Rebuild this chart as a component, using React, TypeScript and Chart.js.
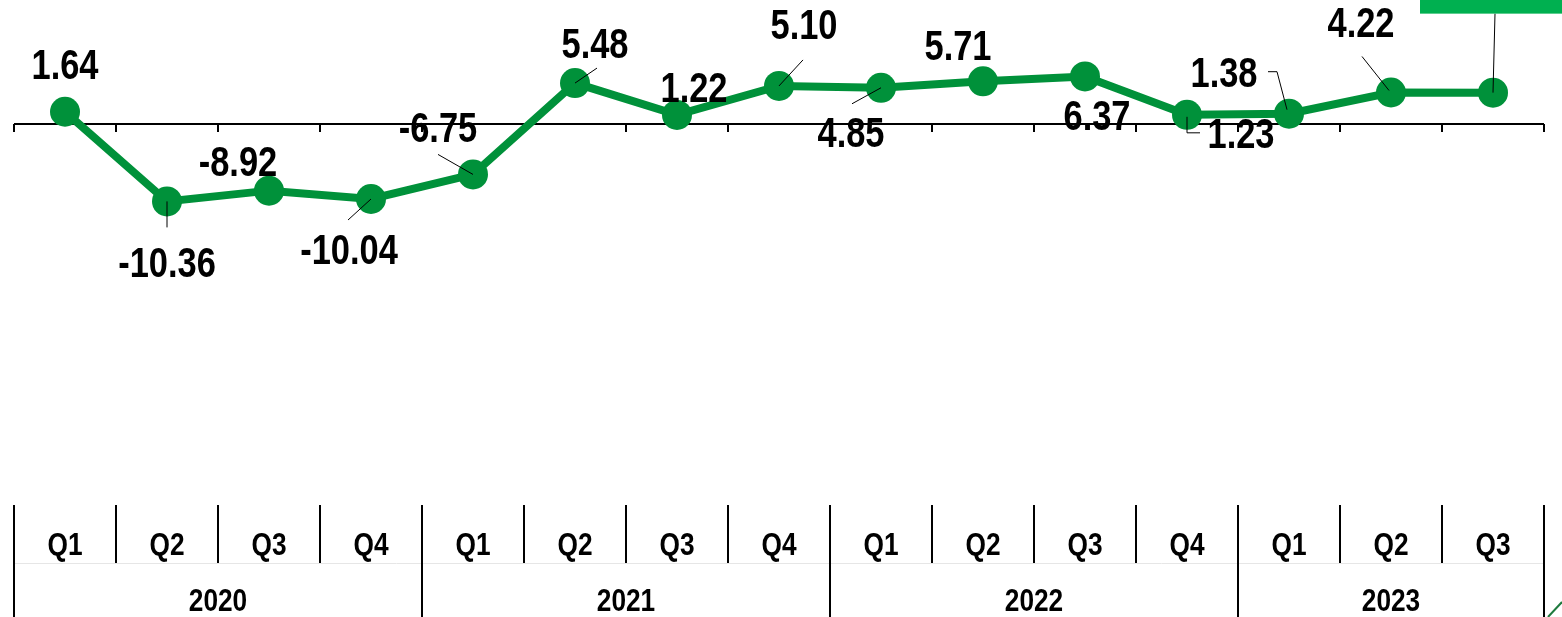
import React, { useEffect, useRef } from 'react';
import { Chart, registerables } from 'chart.js';

Chart.register(...registerables);

// ---- data ----
const quarters = ['Q1', 'Q2', 'Q3', 'Q4', 'Q1', 'Q2', 'Q3', 'Q4', 'Q1', 'Q2', 'Q3', 'Q4', 'Q1', 'Q2', 'Q3'];
const years = ['2020', '2021', '2022', '2023'];
const yearSpans = [4, 4, 4, 3];
const growth = [1.64, -10.36, -8.92, -10.04, -6.75, 5.48, 1.22, 5.1, 4.85, 5.71, 6.37, 1.23, 1.38, 4.22, 4.2];
const shownLabels = ['1.64', '-10.36', '-8.92', '-10.04', '-6.75', '5.48', '1.22', '5.10', '4.85', '5.71', '6.37', '1.23', '1.38', '4.22', ''];

// ---- styles (label placement relative to each point) ----
const labelOffsets: [number, number][] = [
  [0, -47], [0, 61], [-31, -29], [-22, 50], [-35, -47], [20, -40], [17, -27], [25, -61],
  [-30, 45], [-25, -36], [12, 39], [54, 19], [-65, -41], [-30, -70], [0, 0],
];
const LABEL_SHIFT = 3;
const leaderPaths: ([number, number][] | null)[] = [
  null,
  [[0, 0], [0, 26]],
  null,
  [[0, 0], [-23, 21]],
  [[0, 0], [-35, -20]],
  [[0, 0], [22, -15]],
  null,
  [[0, 0], [24, -26]],
  [[0, 0], [-29, 16]],
  null,
  null,
  [[0, 2], [0, 18], [13, 18]],
  [[-21, -42], [-12, -42], [-2, -4]],
  [[-29, -36], [-2, -2]],
  [[2, -79], [0, 0]],
];

const GREEN = '#00913A';
const BOX_GREEN = '#00B050';

let narrowCache: boolean | null = null;
function hasNarrow(ctx: CanvasRenderingContext2D) {
  if (narrowCache !== null) return narrowCache;
  ctx.save();
  ctx.font = 'bold 40px monospace';
  const a = ctx.measureText('1.64 Q1 2020 -10.36').width;
  ctx.font = 'bold 40px "Liberation Sans Narrow", monospace';
  const b = ctx.measureText('1.64 Q1 2020 -10.36').width;
  ctx.restore();
  narrowCache = Math.abs(a - b) > 0.5;
  return narrowCache;
}

function drawText(ctx: CanvasRenderingContext2D, text: string, x: number, y: number, size: number) {
  ctx.save();
  ctx.fillStyle = '#000';
  ctx.textAlign = 'center';
  ctx.textBaseline = 'middle';
  if (hasNarrow(ctx)) {
    ctx.font = `bold ${size}px "Liberation Sans Narrow", "Arial Narrow", sans-serif`;
    ctx.fillText(text, x, y);
  } else {
    ctx.translate(x, y);
    ctx.scale(0.82, 1);
    ctx.font = `bold ${size}px "Liberation Sans", Arial, sans-serif`;
    ctx.fillText(text, 0, 0);
  }
  ctx.restore();
}

const decorPlugin = {
  id: 'decor',
  beforeDatasetsDraw(chart: any) {
    const { ctx, chartArea, scales } = chart;
    const x = scales.x;
    const y = scales.y;
    const n = quarters.length;
    const w = (chartArea.right - chartArea.left) / n;
    const y0 = y.getPixelForValue(0);
    ctx.save();
    ctx.strokeStyle = '#000';
    ctx.lineWidth = 2;
    ctx.beginPath();
    ctx.moveTo(chartArea.left, y0);
    ctx.lineTo(chartArea.right, y0);
    for (let i = 0; i <= n; i++) {
      const bx = Math.round(x.getPixelForValue(0) - w / 2 + i * w);
      ctx.moveTo(bx, y0);
      ctx.lineTo(bx, y0 + 8);
    }
    ctx.stroke();
    ctx.restore();
  },
  afterDatasetsDraw(chart: any) {
    const { ctx, chartArea, scales } = chart;
    const x = scales.x;
    const meta = chart.getDatasetMeta(0);
    const n = quarters.length;
    const w = (chartArea.right - chartArea.left) / n;

    // leader lines
    ctx.save();
    ctx.strokeStyle = '#000';
    ctx.lineWidth = 1;
    meta.data.forEach((pt: any, i: number) => {
      const path = leaderPaths[i];
      if (!path) return;
      ctx.beginPath();
      path.forEach(([dx, dy], k) => {
        if (k === 0) ctx.moveTo(pt.x + dx, pt.y + dy);
        else ctx.lineTo(pt.x + dx, pt.y + dy);
      });
      ctx.stroke();
    });
    ctx.restore();

    // highlighted last label box (partly outside the canvas)
    const last = meta.data[n - 1];
    ctx.save();
    ctx.fillStyle = BOX_GREEN;
    ctx.fillRect(last.x - 73, last.y - 140, 170, 61);
    ctx.restore();

    // value labels
    meta.data.forEach((pt: any, i: number) => {
      const t = shownLabels[i];
      if (!t) return;
      const [dx, dy] = labelOffsets[i];
      drawText(ctx, t, pt.x + dx, pt.y + dy + LABEL_SHIFT, 42);
    });

    // category table
    const top = chartArea.bottom;
    const midRow = top + 58;
    const bottom = chart.height;
    ctx.save();
    ctx.strokeStyle = '#e6e6e6';
    ctx.lineWidth = 1;
    ctx.beginPath();
    ctx.moveTo(chartArea.left, midRow + 0.5);
    ctx.lineTo(chartArea.right, midRow + 0.5);
    ctx.stroke();
    ctx.strokeStyle = '#000';
    ctx.lineWidth = 2;
    const yearBounds = new Set<number>();
    let acc = 0;
    yearBounds.add(0);
    yearSpans.forEach((s) => { acc += s; yearBounds.add(acc); });
    ctx.beginPath();
    for (let i = 0; i <= n; i++) {
      const bx = Math.round(x.getPixelForValue(0) - w / 2 + i * w);
      ctx.moveTo(bx, top);
      ctx.lineTo(bx, yearBounds.has(i) ? bottom : midRow);
    }
    ctx.stroke();
    ctx.restore();

    quarters.forEach((q, i) => {
      drawText(ctx, q, x.getPixelForValue(i), top + 41, 32);
    });
    let start = 0;
    years.forEach((yr, k) => {
      const span = yearSpans[k];
      const cx = x.getPixelForValue(0) - w / 2 + (start + span / 2) * w;
      drawText(ctx, yr, cx, top + 97, 32);
      start += span;
    });

    // small cut-off green shape at the bottom-right corner
    ctx.save();
    ctx.strokeStyle = '#1E7A3E';
    ctx.lineWidth = 2;
    ctx.beginPath();
    ctx.moveTo(chart.width - 14, chart.height);
    ctx.lineTo(chart.width, chart.height - 15);
    ctx.stroke();
    ctx.restore();
  },
};

export default function App() {
  const ref = useRef<HTMLCanvasElement | null>(null);
  useEffect(() => {
    document.body.style.margin = '0';
    const canvas = ref.current;
    if (!canvas) return;
    const chart = new Chart(canvas, {
      type: 'line',
      data: {
        labels: quarters,
        datasets: [
          {
            data: growth,
            borderColor: GREEN,
            backgroundColor: GREEN,
            borderWidth: 8,
            pointRadius: 15,
            pointBackgroundColor: GREEN,
            pointBorderColor: GREEN,
            pointBorderWidth: 0,
            tension: 0,
            fill: false,
            clip: false as any,
          },
        ],
      },
      options: {
        responsive: false,
        animation: false,
        devicePixelRatio: 1,
        layout: { autoPadding: false, padding: { left: 14, right: 18, top: 0, bottom: 112 } },
        plugins: { legend: { display: false }, tooltip: { enabled: false } },
        scales: {
          x: { type: 'category', offset: true, display: false },
          y: { type: 'linear', min: -51, max: 16.6, display: false },
        },
      },
      plugins: [decorPlugin],
    });
    return () => chart.destroy();
  }, []);
  return (
    <div style={{ width: 1562, height: 617, position: 'relative' }}>
      <canvas ref={ref} width={1562} height={617} style={{ width: 1562, height: 617, display: 'block' }} />
    </div>
  );
}
